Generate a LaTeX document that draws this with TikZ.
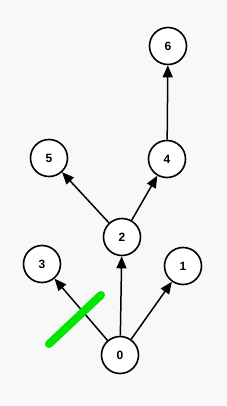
\documentclass[tikz,border=0pt]{standalone}
\usepackage{fontspec}
\setmainfont{Liberation Sans}
\usepackage{tikz}
\usetikzlibrary{arrows.meta}

\begin{document}
\begin{tikzpicture}[
  x=1pt, y=-1pt,
  vertex/.style={draw, circle, line width=1.6pt, fill=white, minimum size=37pt, inner sep=0pt, font=\bfseries\fontsize{12}{14}\selectfont},
  arrow/.style={-{Triangle[length=12pt,width=10pt]}, line width=1.5pt}
]
\fill[fill={rgb,255:red,248;green,248;blue,248}] (0,0) rectangle (227,406);
\useasboundingbox (0,0) rectangle (227,406);
\node[vertex] (n0) at (120,355) {0};
\node[vertex] (n1) at (183,266) {1};
\node[vertex] (n2) at (122,237) {2};
\node[vertex] (n3) at (42,264) {3};
\node[vertex] (n4) at (167,159) {4};
\node[vertex] (n5) at (49,158) {5};
\node[vertex] (n6) at (168,46) {6};
\draw[arrow] (n0) -- (n1);
\draw[arrow] (n0) -- (n2);
\draw[arrow] (n0) -- (n3);
\draw[arrow] (n2) -- (n4);
\draw[arrow] (n2) -- (n5);
\draw[arrow] (n4) -- (n6);
% green stroke
\draw[line width=8pt, line cap=round, color={rgb,255:red,0;green,230;blue,0}] (49,344) -- (101,295);
\end{tikzpicture}
\end{document}
